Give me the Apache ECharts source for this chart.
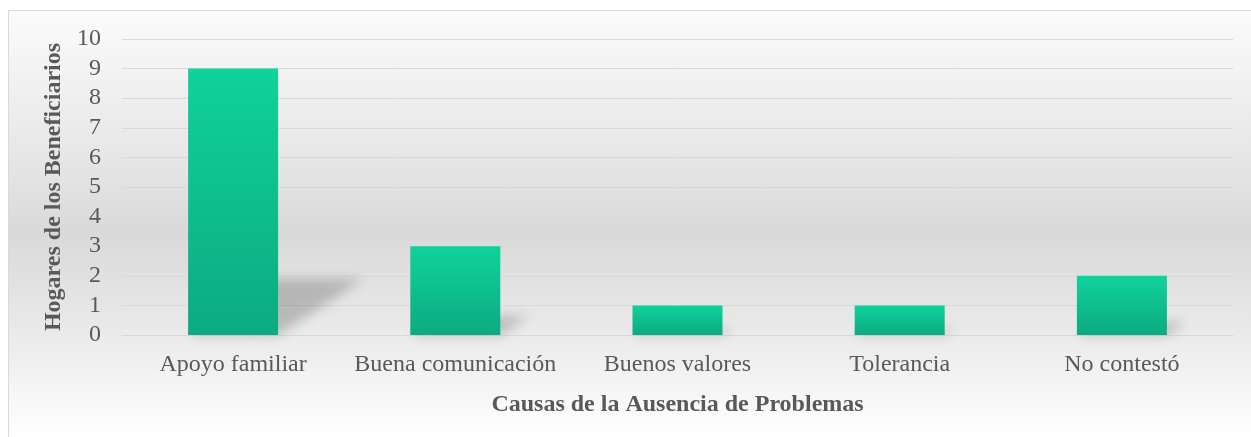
<!DOCTYPE html>
<html>
<head>
<meta charset="utf-8">
<script src="https://cdn.jsdelivr.net/npm/echarts@6/dist/echarts.min.js"></script>
<style>
    html, body {
        margin: 0;
        padding: 0;
        background: #ffffff;
    }
    .frame {
        position: absolute;
        left: 8px;
        top: 10px;
        width: 1243px;
        height: 427px;
        border-left: 1px solid #d9d9d9;
        border-top: 1px solid #d9d9d9;
        background: linear-gradient(to bottom, #fbfbfb 0%, #e6e6e6 35%, #d9d9d9 52%, #ececec 78%, #ffffff 100%);
    }
    #main {
        width: 1242px;
        height: 426px;
    }
</style>
</head>
<body>
<div class="frame">
    <div id="main"></div>
</div>
<script>
const categories = ['Apoyo familiar', 'Buena comunicación', 'Buenos valores', 'Tolerancia', 'No contestó']
const hogares = [9, 3, 1, 1, 2]
const yTicks = [0, 1, 2, 3, 4, 5, 6, 7, 8, 9, 10]

const BAR_RATIO = 0.405
const FONT = "'Liberation Serif', 'Times New Roman', serif"
const OFF = 4000

const myChart = echarts.init(document.getElementById('main'))

// perspective shadow behind each bar, drawn offscreen and moved back with the canvas shadow
function renderShadow(params, api) {
    const i = api.value(0)
    const base = api.coord([i, 0])
    const top = api.coord([i, api.value(1)])
    const half = api.size([1, 0])[0] * BAR_RATIO / 2
    const h = base[1] - top[1]
    const dx = h * 0.32
    const dy = h * 0.21
    const x0 = base[0] - half
    const x1 = base[0] + half
    const y0 = base[1]
    return {
        type: 'polygon',
        shape: {
            points: [
                [x0 - OFF, y0],
                [x1 - OFF, y0],
                [x1 + dx - OFF, y0 - dy],
                [x0 + dx - OFF, y0 - dy]
            ]
        },
        style: {
            fill: '#000',
            shadowColor: 'rgba(0,0,0,0.2)',
            shadowBlur: 12,
            shadowOffsetX: OFF
        }
    }
}

const option = {
    animation: false,
    grid: {
        left: 113,
        right: 18,
        top: 28,
        bottom: 102
    },
    xAxis: {
        type: 'category',
        data: categories,
        name: 'Causas de la Ausencia de Problemas',
        nameLocation: 'middle',
        nameGap: 58,
        nameTextStyle: {
            fontFamily: FONT,
            fontSize: 24,
            fontWeight: 'bold',
            color: '#595959'
        },
        axisLine: { lineStyle: { color: '#d9d9d9', width: 1 } },
        axisTick: { show: false },
        axisLabel: {
            interval: 0,
            fontFamily: FONT,
            fontSize: 24,
            color: '#595959',
            margin: 18
        }
    },
    yAxis: {
        type: 'value',
        min: yTicks[0],
        max: yTicks[yTicks.length - 1],
        interval: 1,
        name: 'Hogares de los Beneficiarios',
        nameLocation: 'middle',
        nameGap: 52,
        nameTextStyle: {
            fontFamily: FONT,
            fontSize: 24,
            fontWeight: 'bold',
            color: '#595959'
        },
        axisLine: { show: false },
        axisTick: { show: false },
        axisLabel: {
            fontFamily: FONT,
            fontSize: 24,
            color: '#595959',
            margin: 21
        },
        splitLine: { lineStyle: { color: '#d9d9d9', width: 1 } }
    },
    series: [
        {
            type: 'custom',
            renderItem: renderShadow,
            data: hogares.map((v, i) => [i, v]),
            clip: false,
            silent: true,
            z: 1
        },
        {
            type: 'bar',
            data: hogares,
            barWidth: (BAR_RATIO * 100) + '%',
            z: 3,
            itemStyle: {
                color: new echarts.graphic.LinearGradient(0, 0, 0, 1, [
                    { offset: 0, color: '#10d29b' },
                    { offset: 1, color: '#0caa82' }
                ])
            }
        }
    ]
}

myChart.setOption(option)
window.addEventListener('resize', function () {
    myChart.resize()
})
</script>
</body>
</html>
